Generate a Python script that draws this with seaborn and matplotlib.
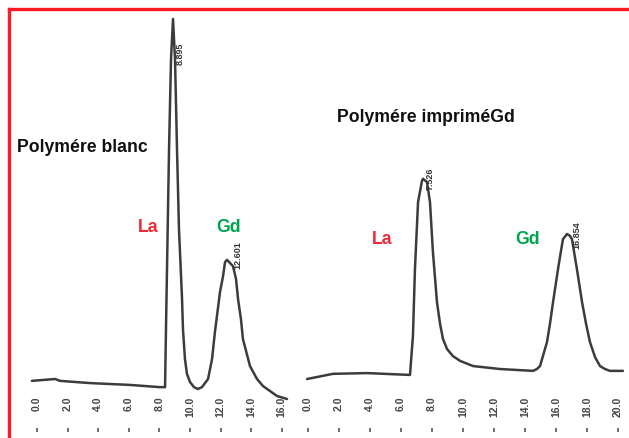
import numpy as np
import pandas as pd
import matplotlib
matplotlib.use("Agg")
import matplotlib.pyplot as plt
import seaborn as sns

# trace: retention time (min), signal (arb.)
blank_time = [-0.33, 1.18, 1.50, 3.46, 6.08, 8.04, 8.37, 8.43, 8.50, 8.63, 8.76, 8.89,
              9.02, 9.15, 9.28, 9.48, 9.54, 9.67, 9.80, 10.00, 10.26, 10.52, 10.78,
              11.18, 11.44, 11.63, 11.96, 12.16, 12.29, 12.42, 12.81, 13.01, 13.14,
              13.33, 13.46, 13.92, 14.38, 14.77, 15.69, 16.34]
blank_signal = [2.2, 2.7, 2.2, 1.6, 1.1, 0.5, 0.5, 16.2, 33.2, 64.9, 89.2, 100.0,
                89.2, 64.9, 43.2, 24.3, 16.2, 8.1, 4.1, 1.9, 0.5, 0.0, 0.5,
                2.7, 8.1, 15.4, 26.2, 30.5, 34.3, 34.9, 33.2, 29.7, 24.3,
                18.9, 13.5, 6.2, 2.7, 0.8, -1.9, -2.7]

imprint_time = [-0.06, 1.61, 3.81, 6.58, 6.77, 6.90, 7.10, 7.35, 7.42, 7.68, 7.87, 8.06,
                8.32, 8.52, 8.71, 8.97, 9.35, 9.81, 10.65, 12.39, 14.52, 14.77, 14.97,
                15.42, 15.61, 15.81, 16.13, 16.32, 16.45, 16.71, 16.90, 17.03, 17.35,
                17.68, 17.94, 18.19, 18.52, 18.84, 19.16, 19.48, 20.32]
imprint_signal = [2.7, 4.1, 4.3, 3.8, 14.3, 32.4, 50.5, 56.2, 56.8, 55.9, 50.5, 37.0,
                  23.5, 17.6, 13.5, 10.8, 8.9, 7.6, 6.2, 5.4, 4.9, 5.4, 6.2,
                  12.7, 17.6, 23.5, 32.4, 37.3, 40.5, 41.9, 41.4, 40.5, 32.4,
                  23.5, 17.6, 12.7, 8.6, 6.2, 5.4, 4.9, 4.9]

blank_ticks = [0, 2, 4, 6, 8, 10, 12, 14, 16]
imprint_ticks = [0, 2, 4, 6, 8, 10, 12, 14, 16, 18, 20]

blank_peak_labels = ["8.895", "12.601"]
blank_peak_windows = [(8, 10), (11, 14)]
imprint_peak_labels = ["7.526", "16.854"]
imprint_peak_windows = [(6, 9), (15, 18)]

RED = "#ec2a35"
GREEN = "#00a34f"
TRACE = "#3c3c3c"

sns.set_style("white")
plt.rcParams["font.family"] = ["Liberation Sans", "DejaVu Sans"]

W, H = 629, 439
fig = plt.figure(figsize=(W / 100, H / 100), dpi=100)


def px_axes(x0, x1, y0, y1):
    return fig.add_axes([x0 / W, 1 - y1 / H, (x1 - x0) / W, (y1 - y0) / H])


def draw_trace(ax, t, s, ticks, labels, windows, offsets):
    df = pd.DataFrame({"time": t, "signal": s})
    sns.lineplot(data=df, x="time", y="signal", ax=ax, color=TRACE, lw=1.8,
                 sort=False, clip_on=False)
    ax.set_xlabel("")
    ax.set_ylabel("")
    ax.set_yticks([])
    ax.set_xticks(ticks)
    ax.set_xticklabels([f"{v:.1f}" for v in ticks], rotation=90, fontsize=7.5,
                       fontweight="bold", color="#444444")
    ax.tick_params(axis="x", length=0, pad=-4)
    for sp in ax.spines.values():
        sp.set_visible(False)
    ax.patch.set_alpha(0)

    # little dash marks under the labels
    sec = ax.secondary_xaxis(-0.075)
    sec.set_xticks(ticks)
    sec.set_xticklabels([])
    sec.tick_params(length=3, width=1.3, color="#666666", direction="inout")
    sec.spines["bottom"].set_visible(False)

    ta = np.array(t)
    sa = np.array(s)
    for lab, (lo, hi), off in zip(labels, windows, offsets):
        m = (ta >= lo) & (ta <= hi)
        i = np.argmax(np.where(m, sa, -np.inf))
        ax.annotate(lab, xy=(ta[i], sa[i]), xytext=off, textcoords="offset points",
                    rotation=90, fontsize=6.5, fontweight="bold", color="#333333",
                    ha="center", va="center")


ax1 = px_axes(30, 300, 10, 402)
ax1.set_xlim((30 - 37) / 15.3, (300 - 37) / 15.3)
ax1.set_ylim((390 - 402) / 3.7, (390 - 10) / 3.7)
draw_trace(ax1, blank_time, blank_signal, blank_ticks, blank_peak_labels,
           blank_peak_windows, [(5, -24), (8, 4)])

ax2 = px_axes(305, 627, 10, 402)
ax2.set_xlim((305 - 308) / 15.5, (627 - 308) / 15.5)
ax2.set_ylim((390 - 402) / 3.7, (390 - 10) / 3.7)
draw_trace(ax2, imprint_time, imprint_signal, imprint_ticks, imprint_peak_labels,
           imprint_peak_windows, [(5, 1), (7, 0)])

# captions
fs = 12.7
fig.text(17 / W, 1 - 148 / H, "Polymére blanc", fontsize=fs, fontweight="bold",
         ha="left", va="center", color="#111111")
fig.text(337 / W, 1 - 118 / H, "Polymére impriméGd", fontsize=fs, fontweight="bold",
         ha="left", va="center", color="#111111")
fig.text(148 / W, 1 - 227 / H, "La", fontsize=fs, fontweight="bold", color=RED,
         ha="center", va="center")
fig.text(229 / W, 1 - 227 / H, "Gd", fontsize=fs, fontweight="bold", color=GREEN,
         ha="center", va="center")
fig.text(382 / W, 1 - 240 / H, "La", fontsize=fs, fontweight="bold", color=RED,
         ha="center", va="center")
fig.text(528 / W, 1 - 240 / H, "Gd", fontsize=fs, fontweight="bold", color=GREEN,
         ha="center", va="center")

# red frame around the figure (left and top edges visible in the scan)
fig.add_artist(plt.Line2D([8.5 / W, 8.5 / W], [0, 1 - 9.5 / H], color="#ff1a24",
                          lw=2.4, transform=fig.transFigure, solid_capstyle="projecting"))
fig.add_artist(plt.Line2D([8.5 / W, 1], [1 - 9.5 / H, 1 - 9.5 / H], color="#ff1a24",
                          lw=2.4, transform=fig.transFigure, solid_capstyle="projecting"))

fig.savefig("out.png", dpi=100)
